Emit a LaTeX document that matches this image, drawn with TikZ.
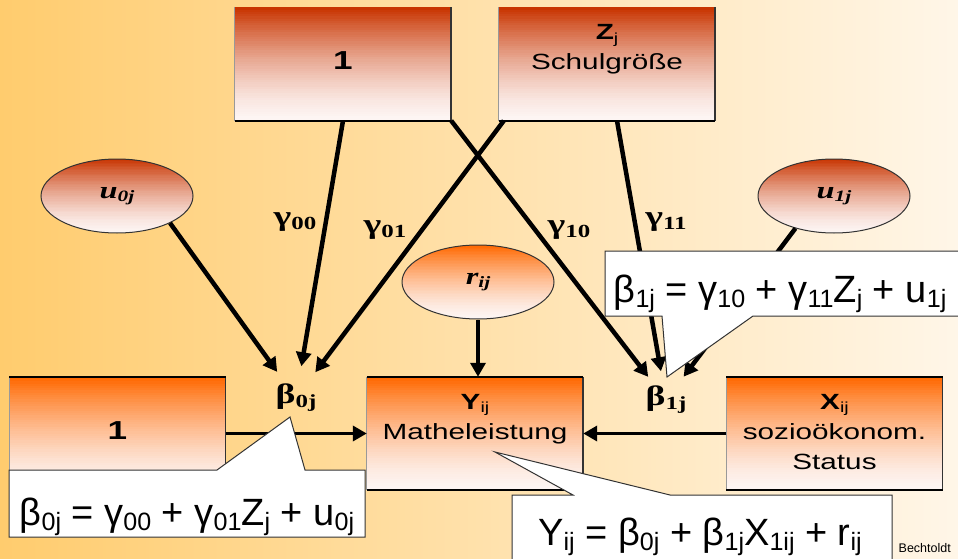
\documentclass[tikz,border=0pt]{standalone}
\usepackage{graphicx}
\usepackage{fontspec}
\setmainfont{Liberation Sans}
\newfontfamily\griech{Liberation Serif}
\usetikzlibrary{arrows.meta,shapes.geometric,calc,backgrounds}

\definecolor{bglinks}{RGB}{255,204,110}
\definecolor{bgrechts}{RGB}{255,246,232}
\definecolor{dunkelrot}{RGB}{200,52,0}
\definecolor{hellorange}{RGB}{255,104,0}
\definecolor{blass}{RGB}{253,245,243}

\newcommand{\lo}[1]{\raisebox{-0.14em}{\scalebox{0.66}{#1}}}
\newcommand{\breit}[1]{\scalebox{1.35}[1]{#1}}
\newcommand{\boxtext}[1]{\breit{\begin{tabular}{@{}c@{}}#1\end{tabular}}}

\begin{document}
\begin{tikzpicture}[x=1pt,y=-1pt,
  kasten/.style={rectangle,minimum width=216pt,minimum height=113pt,inner sep=0pt,
    font=\fontsize{22}{30}\selectfont},
  fehler/.style={ellipse,minimum width=152pt,minimum height=74pt,inner sep=0pt,
    draw=black!80,line width=1pt,font=\griech\bfseries\itshape\fontsize{24}{26}\selectfont},
  koeff/.style={circle,inner sep=0pt,font=\griech\bfseries\fontsize{28}{30}\selectfont},
  gam/.style={inner sep=0pt,font=\griech\bfseries\fontsize{28}{30}\selectfont},
  pfeil/.style={line width=4.5pt,-{Triangle[length=14pt,width=15pt]}},
  sprech/.style={fill=white,draw=black!80,line width=1pt},
  formel/.style={inner sep=0pt,anchor=base,font=\fontsize{38}{40}\selectfont}]
  \useasboundingbox (0,0) rectangle (958,559);
  \clip (0,0) rectangle (958,559);
  % Level 2
  \node[kasten] (eins) at (343,64) {\boxtext{\fontsize{26}{30}\selectfont\textbf{1}}};
  \node[kasten] (zj) at (607,64) {\boxtext{\textbf{Z}\lo{j}\\Schulgröße\\\mbox{}}};
  % Error terms
  \node[fehler] (u0) at (117,196) {\breit{u\lo{0j}}};
  \node[fehler] (u1) at (834,196) {\breit{u\lo{1j}}};
  \node[fehler] (r) at (478,282) {\breit{r\lo{ij}}};
  % Level 1
  \node[kasten] (eins1) at (117.5,433.5) {\boxtext{\fontsize{26}{30}\selectfont\textbf{1}}};
  \node[kasten] (y) at (475,433.5) {\boxtext{\textbf{Y}\lo{ij}\\Matheleistung\\\mbox{}}};
  \node[kasten] (x) at (834.5,433.5) {\boxtext{\textbf{X}\lo{ij}\\sozioökonom.\\Status}};
  % Background and fills
  \begin{pgfonlayer}{background}
    \shade[left color=bglinks,right color=bgrechts] (0,0) rectangle (958,559);
    \foreach \k/\farbe in {eins/dunkelrot,zj/dunkelrot,eins1/hellorange,y/hellorange,x/hellorange} {
      \foreach \i in {0,...,49} {
        \pgfmathtruncatemacro{\p}{100*(1-\i/50)^1.5}
        \fill[\farbe!\p!blass] ($(\k.north west)!{\i/50}!(\k.south west)$)
          rectangle ($(\k.north east)!{(\i+1.2)/50}!(\k.south east)$);
      }
    }
    \foreach \k/\farbe in {u0/dunkelrot,u1/dunkelrot,r/hellorange} {
      \begin{scope}
        \clip (\k) ellipse [x radius=76, y radius=37];
        \foreach \i in {0,...,49} {
          \pgfmathtruncatemacro{\p}{100*(1-\i/50)^1.5}
          \fill[\farbe!\p!blass] ($(\k.west |- \k.north)!{\i/50}!(\k.west |- \k.south)$)
            rectangle ($(\k.east |- \k.north)!{(\i+1.2)/50}!(\k.east |- \k.south)$);
        }
      \end{scope}
    }
  \end{pgfonlayer}
  % Box edges
  \foreach \k in {eins,zj,eins1,y,x} {
    \draw[black!40,line width=1pt] (\k.south west) -- (\k.north west);
    \draw[black!80,line width=1.5pt] (\k.north east) -- (\k.south east);
    \draw[line width=2.2pt] (\k.south west) -- (\k.south east);
  }
  \foreach \k in {eins1,y,x}
    \draw[line width=2pt] (\k.north west) -- (\k.north east);
  % Coefficients
  \node[koeff,minimum size=64pt] (b0) at (296,398) {\breit{β\lo{0j}}};
  \node[koeff,minimum size=58pt] (b1) at (666,400) {\breit{β\lo{1j}}};
  % Paths
  \draw[pfeil] (u0.-27) -- (b0);
  \draw[pfeil] (eins.south) -- (b0);
  \draw[pfeil] ([xshift=5pt]zj.south west) -- (b0);
  \draw[pfeil] (eins.south east) -- (b1);
  \draw[pfeil] ([xshift=10pt]zj.south) -- (b1);
  \draw[pfeil] (u1.220) -- (b1);
  \draw[pfeil] (r.south) -- (r.south |- y.north);
  \draw[pfeil,line width=3.5pt] (eins1.east) -- (y.west);
  \draw[pfeil,line width=3.5pt] (x.west) -- (y.east);
  % Gammas
  \node[gam] (g00) at (295,222) {\breit{γ\lo{00}}};
  \node[gam] (g01) at (385,230) {\breit{γ\lo{01}}};
  \node[gam] (g10) at (569,230) {\breit{γ\lo{10}}};
  \node[gam] (g11) at (666,222) {\breit{γ\lo{11}}};
  % Callouts
  \draw[sprech] (9,470) -- (217,470) -- (290,417) -- (305,470) -- (365,470) -- (365,537) -- (9,537) -- cycle;
  \node[formel] (f0) at (187,525) {β\lo{0j} = γ\lo{00} + γ\lo{01}Z\lo{j} + u\lo{0j}};
  \draw[sprech] (605,251) -- (975,251) -- (975,316) -- (753,316) -- (667,377) -- (662,316) -- (605,316) -- cycle;
  \node[formel] (f1) at (780,302) {β\lo{1j} = γ\lo{10} + γ\lo{11}Z\lo{j} + u\lo{1j}};
  \draw[sprech] (512,495) -- (573,495) -- (495,452) -- (670,495) -- (892,495) -- (892,580) -- (512,580) -- cycle;
  \node[formel] (fy) at (700,545) {Y\lo{ij} = β\lo{0j} + β\lo{1j}X\lo{1ij} + r\lo{ij}};
  % Source
  \node[anchor=base east,inner sep=0pt,font=\fontsize{12.5}{14}\selectfont] (quelle) at (951,552) {Bechtoldt};
\end{tikzpicture}
\end{document}
